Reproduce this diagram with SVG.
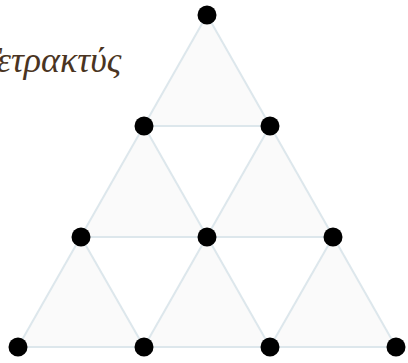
<svg xmlns="http://www.w3.org/2000/svg" width="408" height="363" viewBox="0 0 408 363">
<style>
.tri{fill:#fafafa;stroke:none}
.edge{stroke:#dde7ec;stroke-width:2;fill:none}
.dot{fill:#000}
.title{font-family:"Liberation Serif","DejaVu Serif",serif;font-style:italic;font-size:36px;fill:#4a3422}
</style>
<rect width="408" height="363" fill="#fff"/>
<g id="faces">
<polygon class="tri" points="207,15 144,126 270,126"/>
<polygon class="tri" points="144,126 81,237 207,237"/>
<polygon class="tri" points="270,126 207,237 333,237"/>
<polygon class="tri" points="81,237 18,347 144,347"/>
<polygon class="tri" points="207,237 144,347 270,347"/>
<polygon class="tri" points="333,237 270,347 396,347"/>
</g>
<g id="connectors">
<line class="edge" x1="207" y1="15" x2="18" y2="347"/>
<line class="edge" x1="207" y1="15" x2="396" y2="347"/>
<line class="edge" x1="144" y1="126" x2="270" y2="126"/>
<line class="edge" x1="81" y1="237" x2="333" y2="237"/>
<line class="edge" x1="18" y1="347" x2="396" y2="347"/>
<line class="edge" x1="144" y1="126" x2="270" y2="347"/>
<line class="edge" x1="270" y1="126" x2="144" y2="347"/>
<line class="edge" x1="81" y1="237" x2="144" y2="347"/>
<line class="edge" x1="333" y1="237" x2="270" y2="347"/>
</g>
<g id="n1"><circle class="dot" cx="207" cy="15" r="9.5"/></g>
<g id="n2"><circle class="dot" cx="144" cy="126" r="9.5"/></g>
<g id="n3"><circle class="dot" cx="270" cy="126" r="9.5"/></g>
<g id="n4"><circle class="dot" cx="81" cy="237" r="9.5"/></g>
<g id="n5"><circle class="dot" cx="207" cy="237" r="9.5"/></g>
<g id="n6"><circle class="dot" cx="333" cy="237" r="9.5"/></g>
<g id="n7"><circle class="dot" cx="18" cy="347" r="9.5"/></g>
<g id="n8"><circle class="dot" cx="144" cy="347" r="9.5"/></g>
<g id="n9"><circle class="dot" cx="270" cy="347" r="9.5"/></g>
<g id="n10"><circle class="dot" cx="396" cy="347" r="9.5"/></g>
<text class="title" x="-20" y="72">Τετρακτύς</text>
</svg>
